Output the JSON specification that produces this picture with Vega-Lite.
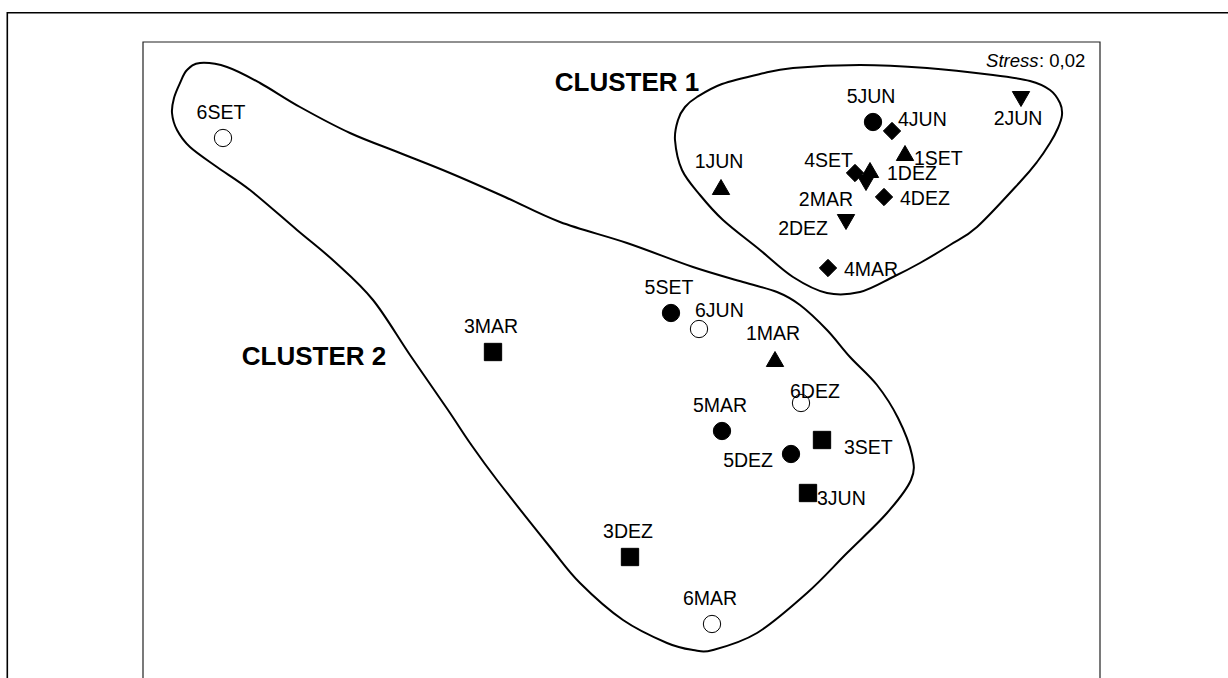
{
  "$schema": "https://vega.github.io/schema/vega-lite/v6.json",
  "width": 1228,
  "height": 678,
  "autosize": {"type": "fit", "contains": "padding"},
  "padding": 0,
  "background": "white",
  "config": {"view": {"stroke": null}, "text": {"font": "Liberation Sans", "color": "black"}},
  "datasets": {
    "samples": [
      {"label": "6SET", "site": "6", "month": "SET", "dim1": -3.97, "dim2": 2.12},
      {"label": "5JUN", "site": "5", "month": "JUN", "dim1": 2.53, "dim2": 2.28},
      {"label": "4JUN", "site": "4", "month": "JUN", "dim1": 2.72, "dim2": 2.19},
      {"label": "2JUN", "site": "2", "month": "JUN", "dim1": 4.01, "dim2": 2.51},
      {"label": "1JUN", "site": "1", "month": "JUN", "dim1": 1.01, "dim2": 1.63},
      {"label": "1SET", "site": "1", "month": "SET", "dim1": 2.85, "dim2": 1.97},
      {"label": "4SET", "site": "4", "month": "SET", "dim1": 2.35, "dim2": 1.77},
      {"label": "1DEZ", "site": "1", "month": "DEZ", "dim1": 2.50, "dim2": 1.80},
      {"label": "2MAR", "site": "2", "month": "MAR", "dim1": 2.46, "dim2": 1.67},
      {"label": "4DEZ", "site": "4", "month": "DEZ", "dim1": 2.64, "dim2": 1.53},
      {"label": "2DEZ", "site": "2", "month": "DEZ", "dim1": 2.26, "dim2": 1.28},
      {"label": "4MAR", "site": "4", "month": "MAR", "dim1": 2.08, "dim2": 0.82},
      {"label": "5SET", "site": "5", "month": "SET", "dim1": 0.51, "dim2": 0.37},
      {"label": "6JUN", "site": "6", "month": "JUN", "dim1": 0.79, "dim2": 0.21},
      {"label": "3MAR", "site": "3", "month": "MAR", "dim1": -1.27, "dim2": -0.02},
      {"label": "1MAR", "site": "1", "month": "MAR", "dim1": 1.55, "dim2": -0.09},
      {"label": "6DEZ", "site": "6", "month": "DEZ", "dim1": 1.81, "dim2": -0.53},
      {"label": "5MAR", "site": "5", "month": "MAR", "dim1": 1.02, "dim2": -0.81},
      {"label": "3SET", "site": "3", "month": "SET", "dim1": 2.02, "dim2": -0.90},
      {"label": "5DEZ", "site": "5", "month": "DEZ", "dim1": 1.71, "dim2": -1.04},
      {"label": "3JUN", "site": "3", "month": "JUN", "dim1": 1.88, "dim2": -1.43},
      {"label": "3DEZ", "site": "3", "month": "DEZ", "dim1": 0.10, "dim2": -2.07},
      {"label": "6MAR", "site": "6", "month": "MAR", "dim1": 0.92, "dim2": -2.74}
    ],
    "outlines": [
      {"cluster": "2", "i": 1, "dim1": -4.20, "dim2": 2.87},
      {"cluster": "2", "i": 2, "dim1": -3.93, "dim2": 2.83},
      {"cluster": "2", "i": 3, "dim1": -3.60, "dim2": 2.67},
      {"cluster": "2", "i": 4, "dim1": -3.20, "dim2": 2.43},
      {"cluster": "2", "i": 5, "dim1": -2.70, "dim2": 2.17},
      {"cluster": "2", "i": 6, "dim1": -2.20, "dim2": 1.97},
      {"cluster": "2", "i": 7, "dim1": -1.70, "dim2": 1.77},
      {"cluster": "2", "i": 8, "dim1": -1.15, "dim2": 1.53},
      {"cluster": "2", "i": 9, "dim1": -0.60, "dim2": 1.28},
      {"cluster": "2", "i": 10, "dim1": 0.07, "dim2": 1.07},
      {"cluster": "2", "i": 11, "dim1": 0.73, "dim2": 0.83},
      {"cluster": "2", "i": 12, "dim1": 1.23, "dim2": 0.68},
      {"cluster": "2", "i": 13, "dim1": 1.57, "dim2": 0.58},
      {"cluster": "2", "i": 14, "dim1": 1.80, "dim2": 0.45},
      {"cluster": "2", "i": 15, "dim1": 2.07, "dim2": 0.20},
      {"cluster": "2", "i": 16, "dim1": 2.30, "dim2": -0.07},
      {"cluster": "2", "i": 17, "dim1": 2.57, "dim2": -0.35},
      {"cluster": "2", "i": 18, "dim1": 2.78, "dim2": -0.68},
      {"cluster": "2", "i": 19, "dim1": 2.92, "dim2": -1.05},
      {"cluster": "2", "i": 20, "dim1": 2.91, "dim2": -1.30},
      {"cluster": "2", "i": 21, "dim1": 2.67, "dim2": -1.63},
      {"cluster": "2", "i": 22, "dim1": 2.27, "dim2": -2.03},
      {"cluster": "2", "i": 23, "dim1": 1.87, "dim2": -2.43},
      {"cluster": "2", "i": 24, "dim1": 1.37, "dim2": -2.83},
      {"cluster": "2", "i": 25, "dim1": 0.93, "dim2": -3.00},
      {"cluster": "2", "i": 26, "dim1": 0.73, "dim2": -3.00},
      {"cluster": "2", "i": 27, "dim1": 0.47, "dim2": -2.93},
      {"cluster": "2", "i": 28, "dim1": 0.03, "dim2": -2.70},
      {"cluster": "2", "i": 29, "dim1": -0.40, "dim2": -2.33},
      {"cluster": "2", "i": 30, "dim1": -0.70, "dim2": -1.97},
      {"cluster": "2", "i": 31, "dim1": -1.23, "dim2": -1.30},
      {"cluster": "2", "i": 32, "dim1": -1.50, "dim2": -0.93},
      {"cluster": "2", "i": 33, "dim1": -1.72, "dim2": -0.60},
      {"cluster": "2", "i": 34, "dim1": -2.10, "dim2": -0.05},
      {"cluster": "2", "i": 35, "dim1": -2.47, "dim2": 0.50},
      {"cluster": "2", "i": 36, "dim1": -2.85, "dim2": 0.88},
      {"cluster": "2", "i": 37, "dim1": -3.23, "dim2": 1.20},
      {"cluster": "2", "i": 38, "dim1": -3.70, "dim2": 1.60},
      {"cluster": "2", "i": 39, "dim1": -4.03, "dim2": 1.83},
      {"cluster": "2", "i": 40, "dim1": -4.30, "dim2": 2.03},
      {"cluster": "2", "i": 41, "dim1": -4.43, "dim2": 2.20},
      {"cluster": "2", "i": 42, "dim1": -4.48, "dim2": 2.37},
      {"cluster": "2", "i": 43, "dim1": -4.46, "dim2": 2.52},
      {"cluster": "2", "i": 44, "dim1": -4.40, "dim2": 2.67},
      {"cluster": "2", "i": 45, "dim1": -4.33, "dim2": 2.80},
      {"cluster": "1", "i": 1, "dim1": 0.77, "dim2": 2.53},
      {"cluster": "1", "i": 2, "dim1": 1.02, "dim2": 2.66},
      {"cluster": "1", "i": 3, "dim1": 1.40, "dim2": 2.76},
      {"cluster": "1", "i": 4, "dim1": 1.73, "dim2": 2.82},
      {"cluster": "1", "i": 5, "dim1": 2.40, "dim2": 2.85},
      {"cluster": "1", "i": 6, "dim1": 3.07, "dim2": 2.82},
      {"cluster": "1", "i": 7, "dim1": 3.73, "dim2": 2.75},
      {"cluster": "1", "i": 8, "dim1": 4.10, "dim2": 2.69},
      {"cluster": "1", "i": 9, "dim1": 4.30, "dim2": 2.60},
      {"cluster": "1", "i": 10, "dim1": 4.40, "dim2": 2.47},
      {"cluster": "1", "i": 11, "dim1": 4.42, "dim2": 2.35},
      {"cluster": "1", "i": 12, "dim1": 4.38, "dim2": 2.22},
      {"cluster": "1", "i": 13, "dim1": 4.30, "dim2": 2.07},
      {"cluster": "1", "i": 14, "dim1": 4.17, "dim2": 1.88},
      {"cluster": "1", "i": 15, "dim1": 4.00, "dim2": 1.68},
      {"cluster": "1", "i": 16, "dim1": 3.57, "dim2": 1.23},
      {"cluster": "1", "i": 17, "dim1": 3.30, "dim2": 1.05},
      {"cluster": "1", "i": 18, "dim1": 3.00, "dim2": 0.87},
      {"cluster": "1", "i": 19, "dim1": 2.73, "dim2": 0.73},
      {"cluster": "1", "i": 20, "dim1": 2.40, "dim2": 0.58},
      {"cluster": "1", "i": 21, "dim1": 2.07, "dim2": 0.57},
      {"cluster": "1", "i": 22, "dim1": 1.73, "dim2": 0.73},
      {"cluster": "1", "i": 23, "dim1": 1.40, "dim2": 1.00},
      {"cluster": "1", "i": 24, "dim1": 1.03, "dim2": 1.30},
      {"cluster": "1", "i": 25, "dim1": 0.80, "dim2": 1.55},
      {"cluster": "1", "i": 26, "dim1": 0.62, "dim2": 1.80},
      {"cluster": "1", "i": 27, "dim1": 0.55, "dim2": 2.10},
      {"cluster": "1", "i": 28, "dim1": 0.58, "dim2": 2.30},
      {"cluster": "1", "i": 29, "dim1": 0.65, "dim2": 2.43}
    ],
    "frames": [
      {"frame": "outer", "dim1": -6.127, "dim1b": 6.4, "dim2": 3.373, "dim2b": -3.6},
      {"frame": "inner", "dim1": -4.77, "dim1b": 4.80, "dim2": 3.08, "dim2b": -3.6}
    ],
    "notes": [
      {"text": "CLUSTER 1", "dim1": 0.07, "dim2": 2.67},
      {"text": "CLUSTER 2", "dim1": -3.06, "dim2": -0.065},
      {"text": "Stress", "dim1": 4.185, "dim2": 2.89},
      {"text": ": 0,02", "dim1": 4.19, "dim2": 2.89}
    ]
  },
  "encoding": {
    "x": {"field": "dim1", "type": "quantitative", "scale": {"domain": [-6.2, 6.08], "nice": false, "zero": false}, "axis": null},
    "y": {"field": "dim2", "type": "quantitative", "scale": {"domain": [-3.28, 3.5], "nice": false, "zero": false}, "axis": null}
  },
  "layer": [
    {
      "data": {"name": "frames"},
      "transform": [{"filter": "datum.frame == 'outer'"}],
      "mark": {"type": "rect", "fill": null, "stroke": "black", "strokeWidth": 1.6, "clip": true},
      "encoding": {"x2": {"field": "dim1b"}, "y2": {"field": "dim2b"}}
    },
    {
      "data": {"name": "frames"},
      "transform": [{"filter": "datum.frame == 'inner'"}],
      "mark": {"type": "rect", "fill": null, "stroke": "#222222", "strokeWidth": 1.2, "clip": true},
      "encoding": {"x2": {"field": "dim1b"}, "y2": {"field": "dim2b"}}
    },
    {
      "data": {"name": "outlines"},
      "mark": {"type": "line", "interpolate": "cardinal-closed", "stroke": "black", "strokeWidth": 2},
      "encoding": {"detail": {"field": "cluster"}, "order": {"field": "i", "type": "quantitative"}}
    },
    {
      "data": {"name": "samples"},
      "mark": {"type": "point", "filled": true, "stroke": "black", "strokeWidth": 1, "size": 300, "opacity": 1},
      "encoding": {
        "shape": {"field": "site", "type": "nominal", "legend": null, "scale": {"domain": ["1", "2", "3", "4", "5", "6"], "range": ["triangle-up", "triangle-down", "square", "diamond", "circle", "circle"]}},
        "fill": {"field": "site", "type": "nominal", "legend": null, "scale": {"domain": ["1", "2", "3", "4", "5", "6"], "range": ["black", "black", "black", "black", "black", "white"]}}
      }
    },
    {
      "data": {"name": "samples"},
      "transform": [{"filter": {"field": "label", "oneOf": ["6SET", "5JUN", "1JUN", "5SET", "3MAR", "5MAR", "3DEZ", "6MAR", "1MAR"]}}],
      "mark": {"type": "text", "fontSize": 19.5, "align": "center", "baseline": "middle", "dx": -2, "dy": -25},
      "encoding": {"text": {"field": "label"}}
    },
    {
      "data": {"name": "samples"},
      "transform": [{"filter": {"field": "label", "oneOf": ["2JUN"]}}],
      "mark": {"type": "text", "fontSize": 19.5, "align": "center", "baseline": "middle", "dx": -3, "dy": 20},
      "encoding": {"text": {"field": "label"}}
    },
    {
      "data": {"name": "samples"},
      "transform": [{"filter": {"field": "label", "oneOf": ["2DEZ", "5DEZ"]}}],
      "mark": {"type": "text", "fontSize": 19.5, "align": "right", "baseline": "middle", "dx": -18, "dy": 7},
      "encoding": {"text": {"field": "label"}}
    },
    {
      "data": {"name": "samples"},
      "transform": [{"filter": {"field": "label", "oneOf": ["4SET"]}}],
      "mark": {"type": "text", "fontSize": 19.5, "align": "right", "baseline": "middle", "dx": -2, "dy": -12},
      "encoding": {"text": {"field": "label"}}
    },
    {
      "data": {"name": "samples"},
      "transform": [{"filter": {"field": "label", "oneOf": ["2MAR"]}}],
      "mark": {"type": "text", "fontSize": 19.5, "align": "right", "baseline": "middle", "dx": -13, "dy": 17},
      "encoding": {"text": {"field": "label"}}
    },
    {
      "data": {"name": "samples"},
      "transform": [{"filter": {"field": "label", "oneOf": ["1DEZ"]}}],
      "mark": {"type": "text", "fontSize": 19.5, "align": "left", "baseline": "middle", "dx": 17, "dy": 4},
      "encoding": {"text": {"field": "label"}}
    },
    {
      "data": {"name": "samples"},
      "transform": [{"filter": {"field": "label", "oneOf": ["4DEZ", "4MAR"]}}],
      "mark": {"type": "text", "fontSize": 19.5, "align": "left", "baseline": "middle", "dx": 16, "dy": 2},
      "encoding": {"text": {"field": "label"}}
    },
    {
      "data": {"name": "samples"},
      "transform": [{"filter": {"field": "label", "oneOf": ["1SET", "3JUN"]}}],
      "mark": {"type": "text", "fontSize": 19.5, "align": "left", "baseline": "middle", "dx": 9, "dy": 6},
      "encoding": {"text": {"field": "label"}}
    },
    {
      "data": {"name": "samples"},
      "transform": [{"filter": {"field": "label", "oneOf": ["3SET"]}}],
      "mark": {"type": "text", "fontSize": 19.5, "align": "left", "baseline": "middle", "dx": 22, "dy": 8},
      "encoding": {"text": {"field": "label"}}
    },
    {
      "data": {"name": "samples"},
      "transform": [{"filter": {"field": "label", "oneOf": ["4JUN"]}}],
      "mark": {"type": "text", "fontSize": 19.5, "align": "left", "baseline": "middle", "dx": 6, "dy": -11},
      "encoding": {"text": {"field": "label"}}
    },
    {
      "data": {"name": "samples"},
      "transform": [{"filter": {"field": "label", "oneOf": ["6JUN"]}}],
      "mark": {"type": "text", "fontSize": 19.5, "align": "left", "baseline": "middle", "dx": -4, "dy": -18},
      "encoding": {"text": {"field": "label"}}
    },
    {
      "data": {"name": "samples"},
      "transform": [{"filter": {"field": "label", "oneOf": ["6DEZ"]}}],
      "mark": {"type": "text", "fontSize": 19.5, "align": "left", "baseline": "middle", "dx": -11, "dy": -11},
      "encoding": {"text": {"field": "label"}}
    },
    {
      "data": {"name": "notes"},
      "transform": [{"filter": {"field": "text", "oneOf": ["CLUSTER 1", "CLUSTER 2"]}}],
      "mark": {"type": "text", "fontSize": 26, "fontWeight": "bold", "align": "center", "baseline": "middle"},
      "encoding": {"text": {"field": "text"}}
    },
    {
      "data": {"name": "notes"},
      "transform": [{"filter": {"field": "text", "oneOf": ["Stress"]}}],
      "mark": {"type": "text", "fontSize": 18.5, "fontStyle": "italic", "align": "right", "baseline": "middle"},
      "encoding": {"text": {"field": "text"}}
    },
    {
      "data": {"name": "notes"},
      "transform": [{"filter": {"field": "text", "oneOf": [": 0,02"]}}],
      "mark": {"type": "text", "fontSize": 18.5, "align": "left", "baseline": "middle"},
      "encoding": {"text": {"field": "text"}}
    }
  ]
}
